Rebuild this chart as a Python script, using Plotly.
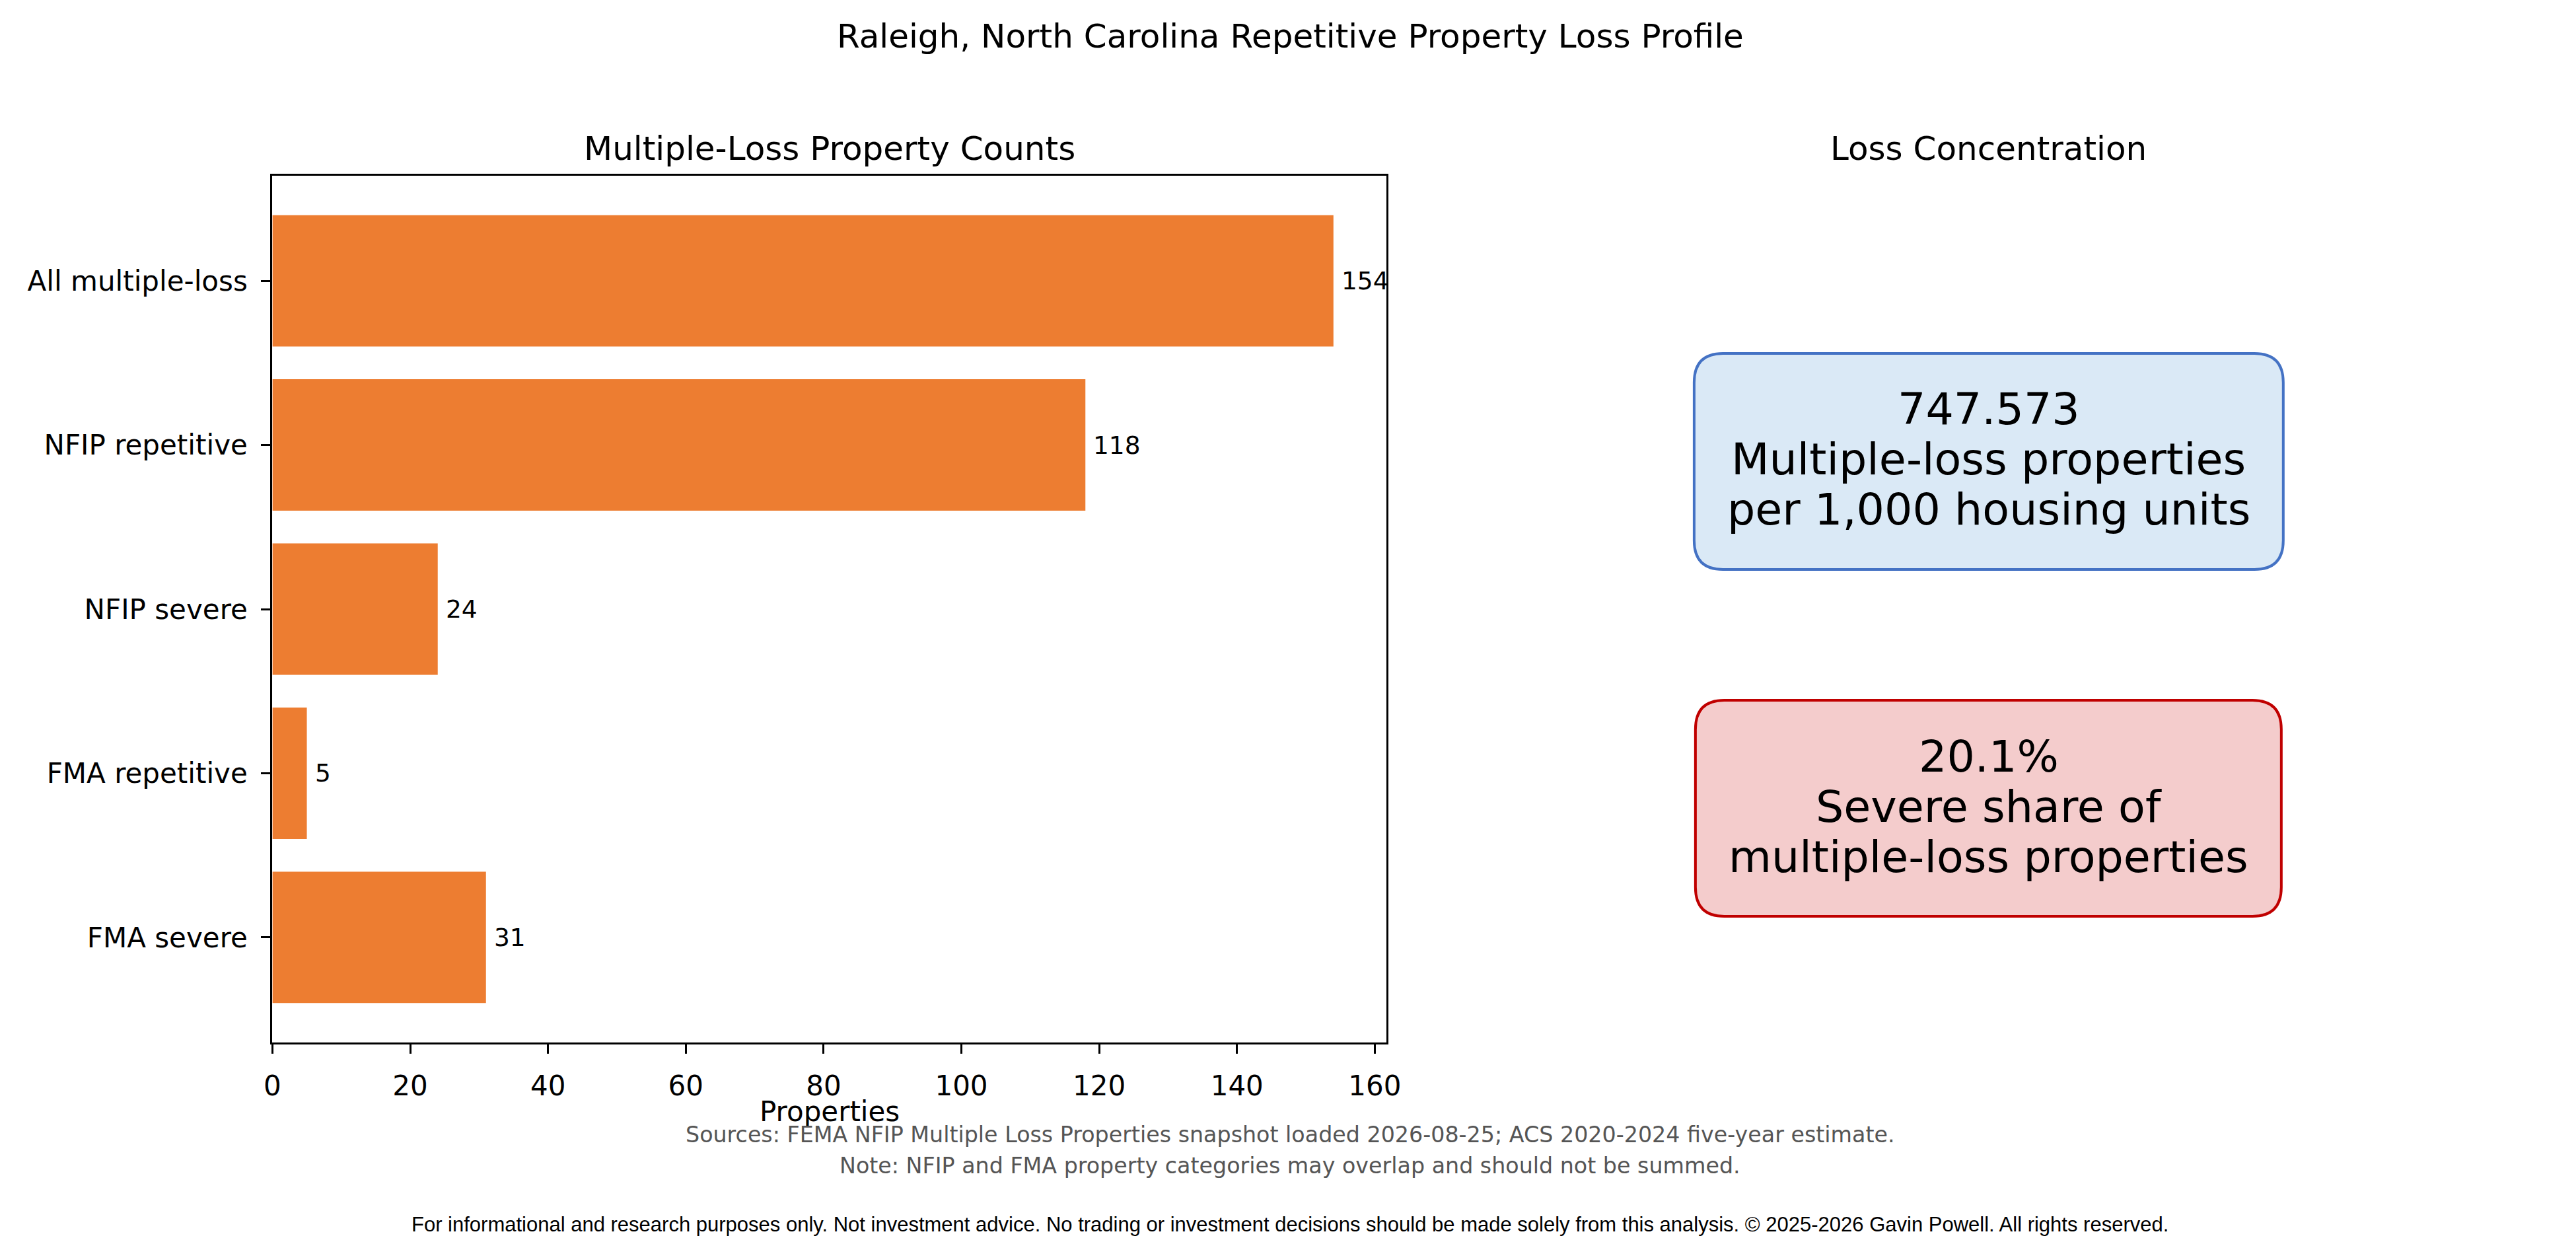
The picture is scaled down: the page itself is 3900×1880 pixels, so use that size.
import plotly.graph_objects as go

# 데이터 =====
categories = ['All multiple-loss', 'NFIP repetitive', 'NFIP severe', 'FMA repetitive', 'FMA severe']
counts = [154, 118, 24, 5, 31]
x_ticks = [0, 20, 40, 60, 80, 100, 120, 140, 160]

rate_value = '747.573'
rate_lines = ['Multiple-loss properties', 'per 1,000 housing units']
share_value = '20.1%'
share_lines = ['Severe share of', 'multiple-loss properties']

title = 'Raleigh, North Carolina Repetitive Property Loss Profile'
sources = 'Sources: FEMA NFIP Multiple Loss Properties snapshot loaded 2026-08-25; ACS 2020-2024 five-year estimate.'
note = 'Note: NFIP and FMA property categories may overlap and should not be summed.'
disclaimer = ('For informational and research purposes only. Not investment advice. No trading or investment '
              'decisions should be made solely from this analysis. © 2025-2026 Gavin Powell. All rights reserved.')

W, H = 3900, 1880
FONT = 'DejaVu Sans'
BAR = '#ED7D31'


def px(x):
    return x / W


def py(y):
    return 1 - y / H


def rounded_box(x0, y0, x1, y1, r):
    # 픽셀 좌표 -> paper 좌표 둥근 사각형 path
    a0, a1 = px(x0), px(x1)
    b0, b1 = py(y1), py(y0)
    rx, ry = r / W, r / H
    return (f'M {a0+rx},{b0} L {a1-rx},{b0} Q {a1},{b0} {a1},{b0+ry} '
            f'L {a1},{b1-ry} Q {a1},{b1} {a1-rx},{b1} L {a0+rx},{b1} '
            f'Q {a0},{b1} {a0},{b1-ry} L {a0},{b0+ry} Q {a0},{b0} {a0+rx},{b0} Z')


fig = go.Figure()
fig.add_trace(go.Bar(x=counts, y=list(range(len(categories))), orientation='h',
                     width=0.8, marker=dict(color=BAR, line=dict(width=0)),
                     showlegend=False, hoverinfo='skip'))

fig.update_layout(width=W, height=H, margin=dict(l=0, r=0, t=0, b=0),
                  paper_bgcolor='white', plot_bgcolor='white',
                  font=dict(family=FONT, color='black'))

axis_style = dict(ticks='outside', ticklen=14, tickwidth=3, tickcolor='black',
                  tickfont=dict(size=42, family=FONT),
                  showline=True, mirror=True, linecolor='black', linewidth=3.3,
                  showgrid=False, zeroline=False, ticklabelstandoff=12)
fig.update_xaxes(domain=[px(403), px(2105)], range=[0, max(counts) * 1.05],
                 tickvals=x_ticks, **axis_style)
fig.update_yaxes(domain=[py(1578), py(266)], range=[len(categories) - 0.36, -0.64],
                 tickvals=list(range(len(categories))), ticktext=categories, **axis_style)

ann = []
# 막대 값 라벨
for i, v in enumerate(counts):
    ann.append(dict(x=v, y=i, xref='x', yref='y', text=str(v), showarrow=False,
                    xanchor='left', yanchor='middle', xshift=10,
                    font=dict(size=37.5, family=FONT)))


def label(text, x, y, size, color='black', family=FONT):
    ann.append(dict(x=px(x), y=py(y), xref='paper', yref='paper', text=text,
                    showarrow=False, xanchor='center', yanchor='middle',
                    font=dict(size=size, color=color, family=family)))


label(title, 1958, 55, 50)
label('Multiple-Loss Property Counts', 1254, 225, 50)
label('Loss Concentration', 3025, 225, 50)
label('Properties', 1254, 1682, 42)
label(sources, 1958, 1717, 33.3, '#555555')
label(note, 1958, 1764, 33.3, '#555555')
label(disclaimer, 1958, 1853, 31, 'black', 'Liberation Sans')

# 카드 텍스트
for j, t in enumerate([rate_value] + rate_lines):
    label(t, 3025, 619 + j * 76, 66.7)
for j, t in enumerate([share_value] + share_lines):
    label(t, 3025, 1145 + j * 76, 66.7)

fig.update_layout(annotations=ann, shapes=[
    dict(type='path', xref='paper', yref='paper', path=rounded_box(2575, 535, 3475, 862, 44),
         fillcolor='#DAE9F6', line=dict(color='#4472C4', width=4), layer='below'),
    dict(type='path', xref='paper', yref='paper', path=rounded_box(2577, 1060, 3472, 1387, 44),
         fillcolor='#F4CCCC', line=dict(color='#C00000', width=4), layer='below'),
])

fig.write_html('out.html', config={'displayModeBar': False},
               post_script="document.body.style.margin='0';")
